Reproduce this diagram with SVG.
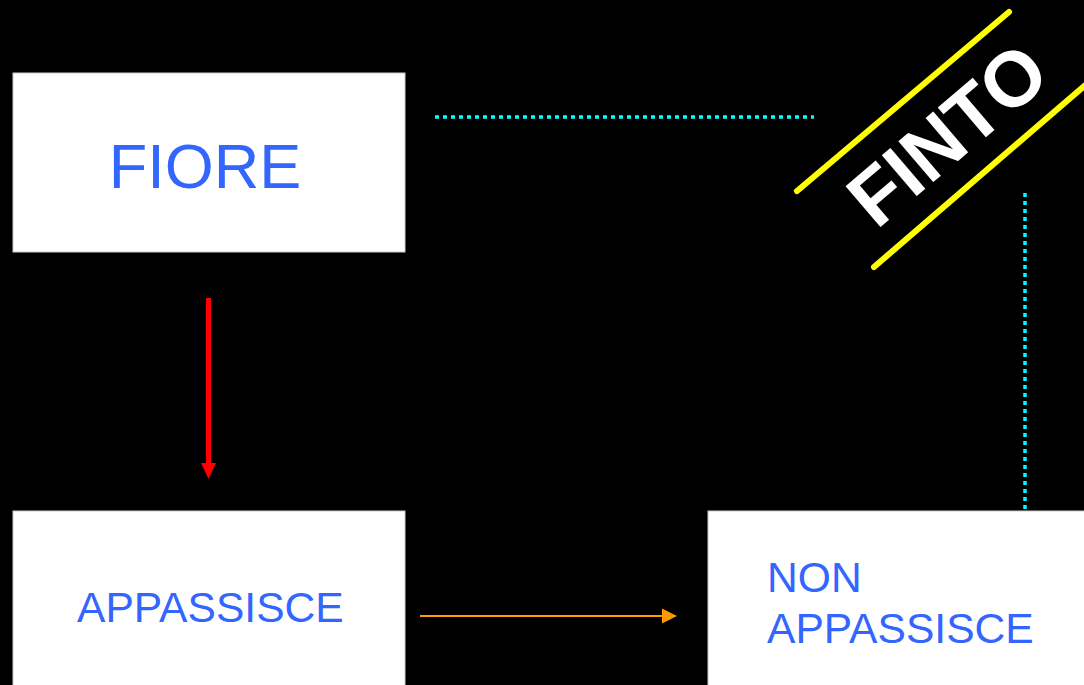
<svg xmlns="http://www.w3.org/2000/svg" width="1084" height="685" viewBox="0 0 1084 685">
<style>
.box{fill:#ffffff;stroke:#cccccc;stroke-width:1}
.lbl{font-family:"Liberation Sans",Arial,sans-serif;fill:#3366ff}
.dot{stroke:#00ffff;stroke-width:3.5;stroke-dasharray:4 4;fill:none}
.yl{stroke:#ffff00;stroke-width:6;stroke-linecap:round}
</style>
<rect width="1084" height="685" fill="#000000"/>
<g id="connectors">
<line x1="208.5" y1="298" x2="208.5" y2="464" stroke="#ff0000" stroke-width="5"/>
<path d="M201,463 L216,463 L208.5,479 Z" fill="#ff0000"/>
<line x1="420" y1="616" x2="663" y2="616" stroke="#ff9900" stroke-width="2"/>
<path d="M662,608.5 L677,616 L662,623.5 Z" fill="#ff9900"/>
<line class="dot" x1="435" y1="117" x2="814" y2="117"/>
<line class="dot" x1="1025" y1="193" x2="1025" y2="510"/>
</g>
<g id="fiore">
<rect class="box" x="13" y="73" width="392" height="179"/>
<text class="lbl" x="205" y="188" font-size="63" text-anchor="middle">FIORE</text>
</g>
<g id="appassisce">
<rect class="box" x="13" y="511" width="392" height="180"/>
<text class="lbl" x="77" y="622" font-size="42.6">APPASSISCE</text>
</g>
<g id="non-appassisce">
<rect class="box" x="708" y="511" width="382" height="180"/>
<text class="lbl" font-size="42.6"><tspan x="767" y="592">NON</tspan><tspan x="767" y="643">APPASSISCE</tspan></text>
</g>
<g id="finto">
<line class="yl" x1="797" y1="191" x2="1009" y2="12"/>
<line class="yl" x1="874" y1="267" x2="1090" y2="81"/>
<text transform="translate(965,155) rotate(-40.5)" text-anchor="middle" font-family="'Liberation Sans',Arial,sans-serif" font-weight="bold" font-size="78" fill="#ffffff">FINTO</text>
</g>
</svg>
